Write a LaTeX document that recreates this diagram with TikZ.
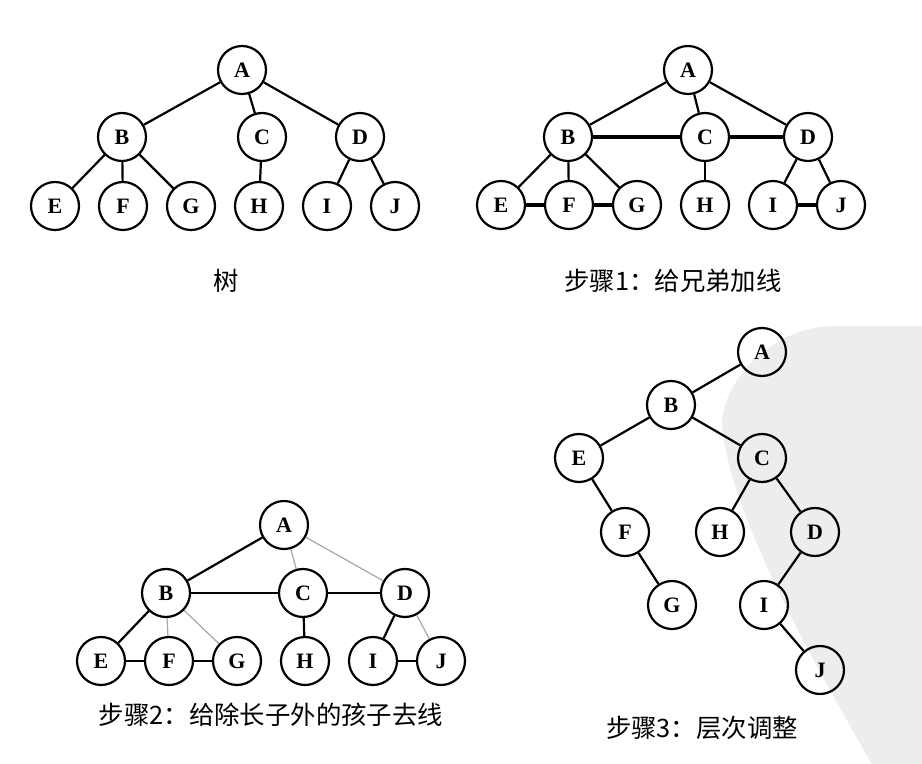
\documentclass[tikz,border=0pt]{standalone}
\usepackage{fontspec}
\setmainfont{Liberation Serif}
\newfontfamily\cjk{Noto Sans CJK SC}
\usetikzlibrary{positioning}

\tikzset{
  vert/.style={circle,draw,line width=1.1pt,minimum size=24pt,inner sep=0pt,
    font=\bfseries\fontsize{11}{13}\selectfont},
  link/.style={line width=1.1pt},
  sib/.style={line width=1.9pt},
  cut/.style={line width=.6pt,black!35},
  steplabel/.style={font=\cjk\fontsize{12.7}{15}\selectfont},
}

\begin{document}
\begin{tikzpicture}[x=0.5pt,y=-0.5pt,node distance=34pt,on grid]
  \useasboundingbox (0,0) rectangle (922,764);
  % watermark in the back
  \fill[black!7] (922,326) -- (830,326) .. controls (780,328) and (728,370) .. (722,420)
    .. controls (725,500) and (800,640) .. (872,764) -- (922,764) -- cycle;

  % tree
  \node[vert] (A_1) at (242,70) {A};
  \node[vert] (B_1) at (122,137) {B};
  \node[vert] (C_1) at (262,137) {C};
  \node[vert] (D_1) at (360,137) {D};
  \node[vert] (E_1) at (55,206) {E};
  \node[vert] (F_1) [right=of E_1] {F};
  \node[vert] (G_1) [right=of F_1] {G};
  \node[vert] (H_1) [right=of G_1] {H};
  \node[vert] (I_1) [right=of H_1] {I};
  \node[vert] (J_1) [right=of I_1] {J};
  \path[link]
    (A_1) edge (B_1) edge (C_1) edge (D_1)
    (B_1) edge (E_1) edge (F_1) edge (G_1)
    (C_1) edge (H_1)
    (D_1) edge (I_1) edge (J_1);
  \node[steplabel] (t_1) at (226,281) {树};

  % step 1
  \node[vert] (A_2) at (688,70) {A};
  \node[vert] (B_2) at (568,137) {B};
  \node[vert] (C_2) at (705,137) {C};
  \node[vert] (D_2) at (808,137) {D};
  \node[vert] (E_2) at (501,205) {E};
  \node[vert] (F_2) [right=of E_2] {F};
  \node[vert] (G_2) [right=of F_2] {G};
  \node[vert] (H_2) [right=of G_2] {H};
  \node[vert] (I_2) [right=of H_2] {I};
  \node[vert] (J_2) [right=of I_2] {J};
  \path[link]
    (A_2) edge (B_2) edge (C_2) edge (D_2)
    (B_2) edge (E_2) edge (F_2) edge (G_2)
    (C_2) edge (H_2)
    (D_2) edge (I_2) edge (J_2);
  \path[sib]
    (B_2) edge (C_2) (C_2) edge (D_2)
    (E_2) edge (F_2) (F_2) edge (G_2)
    (I_2) edge (J_2);
  \node[steplabel] (t_2) at (673,281) {步骤1：给兄弟加线};

  % step 2
  \node[vert] (A_3) at (284,525) {A};
  \node[vert] (B_3) at (166,593) {B};
  \node[vert] (C_3) at (303,593) {C};
  \node[vert] (D_3) at (405,593) {D};
  \node[vert] (E_3) at (101,661) {E};
  \node[vert] (F_3) [right=of E_3] {F};
  \node[vert] (G_3) [right=of F_3] {G};
  \node[vert] (H_3) [right=of G_3] {H};
  \node[vert] (I_3) [right=of H_3] {I};
  \node[vert] (J_3) [right=of I_3] {J};
  \path[link]
    (A_3) edge (B_3)
    (B_3) edge (C_3) edge (E_3)
    (C_3) edge (D_3) edge (H_3)
    (D_3) edge (I_3)
    (E_3) edge (F_3) (F_3) edge (G_3)
    (I_3) edge (J_3);
  \path[cut]
    (A_3) edge (C_3) edge (D_3)
    (B_3) edge (F_3) edge (G_3)
    (D_3) edge (J_3);
  \node[steplabel] (t_3) at (271,715) {步骤2：给除长子外的孩子去线};

  % step 3
  \node[vert] (A_4) at (762,352) {A};
  \node[vert] (B_4) at (671,405) {B};
  \node[vert] (E_4) at (579,458) {E};
  \node[vert] (C_4) at (762,458) {C};
  \node[vert] (F_4) at (625,532) {F};
  \node[vert] (H_4) at (720,532) {H};
  \node[vert] (D_4) at (815,532) {D};
  \node[vert] (G_4) at (672,605) {G};
  \node[vert] (I_4) at (764,605) {I};
  \node[vert] (J_4) at (820,670) {J};
  \path[link]
    (A_4) edge (B_4)
    (B_4) edge (E_4) edge (C_4)
    (E_4) edge (F_4)
    (F_4) edge (G_4)
    (C_4) edge (H_4) edge (D_4)
    (D_4) edge (I_4)
    (I_4) edge (J_4);
  \node[steplabel] (t_4) at (702,728) {步骤3：层次调整};
\end{tikzpicture}
\end{document}
